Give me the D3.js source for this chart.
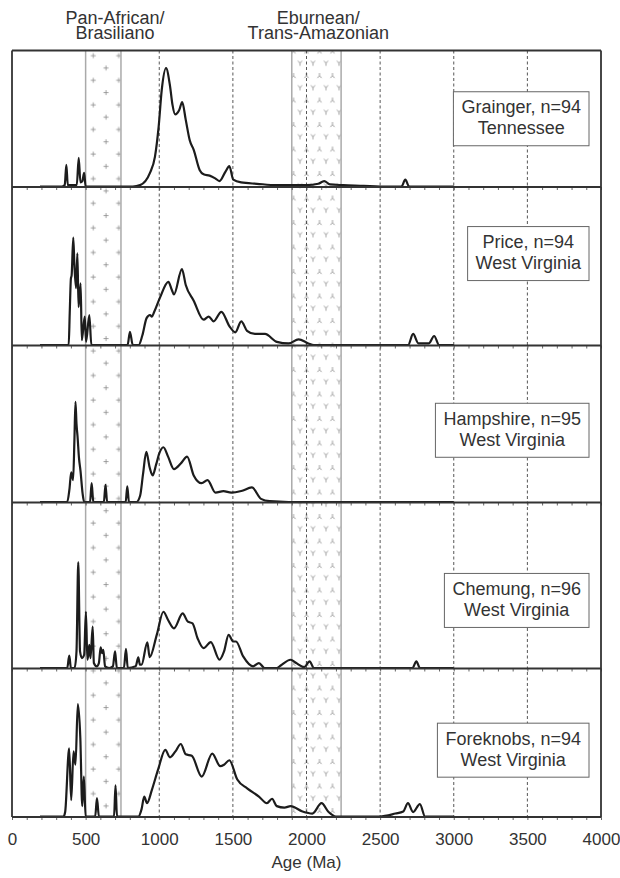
<!DOCTYPE html>
<html>

<head>
    <title>Detrital zircon age spectra</title>
    <script src="https://d3js.org/d3.v7.min.js"></script>
    <style>
        body {
            margin: 0;
            padding: 0;
            background: #fff;
            overflow: hidden;
        }

        text {
            font-family: "Liberation Sans", Arial, sans-serif;
            fill: #333;
        }
    </style>
</head>

<body>
    <script>
        var width = 620,
            height = 878;

        // relative probability, [age Ma, % of panel height]
        var grainger = [[190, 0], [340, 0], [358, 1], [369, 16], [379, 1], [440, 1], [453, 21], [465, 3], [478, 4],
            [490, 10], [500, 0], [820, 0], [870, 1], [937, 10], [971, 22], [996, 44], [1017, 71], [1046, 87],
            [1073, 74], [1090, 60], [1108, 53], [1135, 56], [1156, 62], [1180, 49], [1207, 34], [1234, 27],
            [1275, 12], [1301, 9], [1342, 8], [1380, 6], [1409, 4], [1450, 11], [1476, 15], [1503, 5], [1556, 3],
            [1664, 2], [1798, 1], [1900, 1], [2000, 1], [2080, 2], [2120, 4], [2160, 1.5], [2250, 1], [2389, 0.5],
            [2500, 0], [2645, 0], [2671, 5], [2697, 0], [3000, 0]];

        var price = [[190, 0], [385, 0], [392, 20], [400, 42], [405, 44], [416, 68], [424, 50], [435, 36],
            [444, 58], [452, 24], [466, 39], [474, 3], [494, 18], [503, 2], [525, 19], [539, 0], [785, 0], [801, 8.4],
            [820, 0], [860, 0], [885, 6], [914, 17], [937, 19], [950, 18], [966, 21], [1005, 30], [1062, 40],
            [1085, 35], [1100, 32], [1154, 48], [1180, 38], [1234, 28], [1301, 16], [1336, 18], [1369, 15],
            [1422, 21], [1476, 12], [1516, 8], [1557, 15], [1596, 9], [1650, 7], [1718, 7], [1798, 2], [1879, 1],
            [1946, 3.6], [2013, 1], [2050, 0], [2690, 0], [2724, 7], [2760, 1], [2830, 1], [2867, 5.7], [2900, 0],
            [3000, 0]];

        var hampshire = [[190, 0], [375, 0], [390, 8], [402, 19], [415, 14], [424, 40], [431, 64], [438, 50],
            [445, 42], [455, 28], [465, 20], [480, 5], [490, 0], [530, 0], [541, 12], [552, 0], [624, 0], [635, 11],
            [646, 0], [772, 0], [783, 10], [794, 0], [845, 0], [870, 4], [890, 18], [912, 32], [935, 22], [955, 17],
            [979, 24], [1000, 31], [1028, 35], [1060, 29], [1100, 21], [1150, 25], [1189, 29], [1234, 17],
            [1288, 12], [1328, 14], [1382, 6], [1436, 7], [1489, 6], [1557, 7], [1629, 9.3], [1691, 2], [1750, 0.5],
            [1879, 0], [3000, 0]];

        var chemung = [[190, 0], [375, 0], [389, 7.5], [400, 0], [425, 0], [438, 10], [450, 64], [462, 10],
            [475, 6], [490, 8], [502, 34], [512, 5], [518, 8], [525, 14], [533, 6], [548, 25], [556, 3], [575, 1],
            [590, 3], [602, 12.5], [612, 9], [620, 11], [632, 1], [660, 0], [685, 1], [700, 10], [712, 0], [760, 0],
            [774, 11.5], [786, 0], [840, 1], [858, 6.5], [868, 2], [880, 2], [919, 15.5], [935, 6.5], [983, 20],
            [1028, 34], [1060, 29], [1100, 24], [1159, 33], [1194, 28], [1226, 27], [1260, 18], [1301, 12],
            [1350, 15.6], [1409, 5], [1440, 10], [1471, 20], [1503, 16], [1521, 16], [1570, 7], [1637, 1],
            [1677, 3], [1715, 0], [1800, 0], [1825, 1.5], [1892, 5], [1930, 3], [1986, 0.5], [2021, 4], [2050, 0],
            [2720, 0], [2746, 4], [2770, 0], [3000, 0]];

        var foreknobs = [[190, 0], [350, 0], [361, 3], [388, 46], [402, 11], [418, 44], [431, 35], [447, 76],
            [464, 53], [477, 7], [488, 27], [500, 0], [565, 0], [577, 12.5], [590, 0], [693, 0], [703, 21], [713, 0],
            [858, 0], [880, 5], [898, 13.5], [917, 9], [950, 18], [993, 32], [1041, 45], [1073, 40], [1110, 44],
            [1146, 49], [1180, 42], [1221, 41], [1288, 27], [1360, 42.5], [1414, 34], [1440, 35], [1476, 38],
            [1530, 25], [1597, 19], [1677, 13.5], [1731, 9], [1766, 12], [1798, 7], [1850, 6], [1892, 7],
            [1973, 3.4], [2040, 2], [2102, 9], [2150, 3], [2200, 0], [2496, 0], [2604, 2], [2657, 3.4], [2689, 9],
            [2724, 3], [2770, 8.4], [2805, 0], [3000, 0]];

        var series = [grainger, price, hampshire, chemung, foreknobs];
        var samples = ["Grainger, n=94", "Price, n=94", "Hampshire, n=95", "Chemung, n=96", "Foreknobs, n=94"];
        var regions = ["Tennessee", "West Virginia", "West Virginia", "West Virginia", "West Virginia"];

        var xTicks = [0, 500, 1000, 1500, 2000, 2500, 3000, 3500, 4000];
        var gridAges = [1000, 1500, 2000, 2500, 3000, 3500];
        var panAfrican = [500, 740];
        var eburnean = [1900, 2235];
        var bandNames = [["Pan-African/", "Brasiliano"], ["Eburnean/", "Trans-Amazonian"]];

        // layout
        var panelEdges = [50.5, 187, 345.5, 502.5, 668.5, 817];
        var legendAt = [0.5, 0.42, 0.54, 0.59, 0.55];
        var bandLabelAt = [700, 2080];

        var x = d3.scaleLinear().domain([0, 4000]).range([12, 601]);
        var plotTop = panelEdges[0],
            plotBottom = panelEdges[panelEdges.length - 1];

        var svg = d3.select("body").append("svg")
            .attr("width", width)
            .attr("height", height);

        var defs = svg.append("defs");
        var plus = defs.append("pattern")
            .attr("id", "plus")
            .attr("patternUnits", "userSpaceOnUse")
            .attr("x", 87.3).attr("y", 49.7)
            .attr("width", 25.4).attr("height", 24.6);
        plus.append("path")
            .attr("d", "M3.5,6H8.5M6,3.5V8.5M16.2,18.3H21.2M18.7,15.8V20.8")
            .attr("stroke", "#888").attr("stroke-width", 0.8);

        var ypat = defs.append("pattern")
            .attr("id", "ypat")
            .attr("patternUnits", "userSpaceOnUse")
            .attr("x", 296.5).attr("y", 59.3)
            .attr("width", 13).attr("height", 24.5);
        ypat.append("path")
            .attr("d", "M1.5,1.5L3.5,4L5.5,1.5M3.5,4V6.5M8,18.75L10,16.25L12,18.75M10,16.25V13.75")
            .attr("stroke", "#888").attr("stroke-width", 0.8).attr("fill", "none");

        // bands
        [[panAfrican, "url(#plus)"], [eburnean, "url(#ypat)"]].forEach(function (b) {
            svg.append("rect")
                .attr("x", x(b[0][0])).attr("y", plotTop)
                .attr("width", x(b[0][1]) - x(b[0][0]))
                .attr("height", plotBottom - plotTop)
                .attr("fill", b[1]);
        });

        svg.selectAll("line.grid")
            .data(gridAges)
            .enter().append("line")
            .attr("class", "grid")
            .attr("x1", d => x(d)).attr("x2", d => x(d))
            .attr("y1", plotTop).attr("y2", plotBottom)
            .attr("stroke", "#444")
            .attr("stroke-width", 0.9)
            .attr("stroke-dasharray", "3,2.5");

        svg.selectAll("line.edge")
            .data(panAfrican.concat(eburnean))
            .enter().append("line")
            .attr("class", "edge")
            .attr("x1", d => x(d)).attr("x2", d => x(d))
            .attr("y1", plotTop).attr("y2", plotBottom)
            .attr("stroke", "#aaa")
            .attr("stroke-width", 1.5);

        bandNames.forEach(function (lines, i) {
            var t = svg.append("text")
                .attr("text-anchor", "middle")
                .style("font-size", "18px");
            lines.forEach(function (s, j) {
                t.append("tspan")
                    .attr("x", x(bandLabelAt[i]))
                    .attr("y", 24 + j * 15)
                    .text(s);
            });
        });

        series.forEach(function (data, i) {
            var y0 = panelEdges[i + 1],
                y1 = panelEdges[i];
            var y = d3.scaleLinear().domain([0, 100]).range([y0 - 0.5, y1]);

            var line = d3.line()
                .x(d => x(d[0]))
                .y(d => y(d[1]))
                .curve(d3.curveMonotoneX);

            svg.append("path")
                .datum(data)
                .attr("d", line)
                .attr("fill", "none")
                .attr("stroke", "#1c1c1c")
                .attr("stroke-width", 2.2)
                .attr("stroke-linejoin", "round");

            var cy = y1 + (y0 - y1) * legendAt[i];
            var g = svg.append("g");
            var box = g.append("rect")
                .attr("fill", "#fff")
                .attr("stroke", "#666")
                .attr("stroke-width", 1);
            var t1 = g.append("text")
                .attr("text-anchor", "middle")
                .attr("y", cy - 5.5)
                .style("font-size", "18px")
                .text(samples[i]);
            var t2 = g.append("text")
                .attr("text-anchor", "middle")
                .attr("y", cy + 15.5)
                .style("font-size", "18px")
                .text(regions[i]);
            var w = Math.max(t1.node().getComputedTextLength(), t2.node().getComputedTextLength()) + 16;
            var cx = 589 - w / 2;
            t1.attr("x", cx);
            t2.attr("x", cx);
            box.attr("x", 589 - w).attr("y", cy - 27).attr("width", w).attr("height", 54);
        });

        // panel borders and minor ticks
        panelEdges.slice(1).forEach(function (py) {
            svg.append("g")
                .attr("transform", "translate(0," + py + ")")
                .call(d3.axisBottom(x)
                    .tickValues(d3.range(0, 4001, 100))
                    .tickSize(3)
                    .tickSizeOuter(0)
                    .tickFormat(""))
                .call(g => g.select(".domain").remove())
                .selectAll("line").attr("stroke", "#555").attr("stroke-width", 0.9);
        });

        svg.selectAll("line.border")
            .data(panelEdges)
            .enter().append("line")
            .attr("class", "border")
            .attr("x1", x(0)).attr("x2", x(4000))
            .attr("y1", d => d).attr("y2", d => d)
            .attr("stroke", "#333")
            .attr("stroke-width", 1.8);

        svg.selectAll("line.side")
            .data([0, 4000])
            .enter().append("line")
            .attr("class", "side")
            .attr("x1", d => x(d)).attr("x2", d => x(d))
            .attr("y1", plotTop).attr("y2", plotBottom)
            .attr("stroke", "#333")
            .attr("stroke-width", 1.8);

        var xAxis = svg.append("g")
            .attr("transform", "translate(0," + plotBottom + ")")
            .call(d3.axisBottom(x)
                .tickValues(xTicks)
                .tickSize(0)
                .tickPadding(16)
                .tickFormat(d3.format("d")));
        xAxis.select(".domain").remove();
        xAxis.selectAll("text")
            .style("font-size", "17px")
            .style("font-family", "'Liberation Sans', Arial, sans-serif")
            .attr("fill", "#333");

        svg.append("text")
            .attr("x", x(2000))
            .attr("y", 868)
            .attr("text-anchor", "middle")
            .style("font-size", "17px")
            .text("Age (Ma)");
    </script>
</body>

</html>
